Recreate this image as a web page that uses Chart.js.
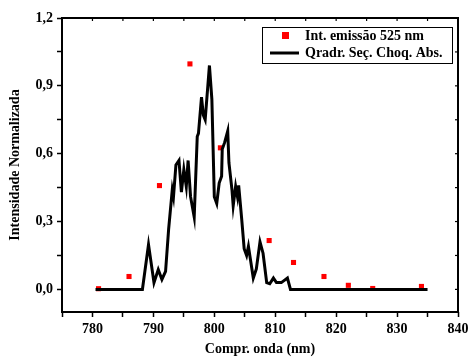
<!DOCTYPE html>
<html>
<head>
<meta charset="utf-8">
<script src="https://cdn.jsdelivr.net/npm/chart.js@4/dist/chart.umd.min.js"></script>
<style>
  html, body { margin: 0; padding: 0; background: #fff; }
</style>
</head>
<body>
<canvas id="chart" width="468" height="358"></canvas>
<script>
// emission intensity points (525 nm)
const emisLabel = 'Int. emissão 525 nm';
const emisX = [781, 786, 791, 796, 801, 809, 813, 818, 822, 826, 834];
const emisY = [0.003, 0.057, 0.459, 0.997, 0.626, 0.216, 0.119, 0.057, 0.018, 0.004, 0.013];

// squared absorption cross-section curve
const specLabel = 'Qradr. Seç. Choq. Abs.';
const specX = [780.5, 788.2, 789.2, 790.1, 790.8, 791.4, 792.0, 792.5, 793.1, 793.3, 793.7, 794.2,
  794.6, 795.0, 795.4, 795.7, 796.1, 796.7, 797.2, 797.4, 797.9, 798.2, 798.5, 799.2, 799.6,
  800.0, 800.4, 800.8, 801.2, 801.3, 801.7, 802.2, 802.4, 802.9, 803.1, 803.5, 803.8, 804.0,
  804.5, 804.9, 805.3, 805.6, 806.0, 806.4, 806.9, 807.5, 808.0, 808.6, 809.1, 809.7, 810.2,
  811.0, 812.0, 812.5, 835.0];
const specY = [0, 0, 0.198, 0.03, 0.088, 0.044, 0.08, 0.265, 0.44, 0.41, 0.55, 0.57,
  0.43, 0.53, 0.455, 0.57, 0.41, 0.32, 0.676, 0.69, 0.85, 0.77, 0.75, 0.99, 0.84,
  0.41, 0.38, 0.47, 0.50, 0.62, 0.65, 0.70, 0.56, 0.44, 0.37, 0.455, 0.41, 0.46,
  0.31, 0.18, 0.15, 0.19, 0.12, 0.05, 0.09, 0.21, 0.16, 0.03, 0.025, 0.05, 0.03,
  0.03, 0.05, 0, 0];

const xTicks = [780, 790, 800, 810, 820, 830, 840];
const yTicks = [0, 0.3, 0.6, 0.9, 1.2];

const serif = '"Liberation Serif", "Times New Roman", serif';

const frameAndLegend = {
  id: 'frameAndLegend',
  afterDatasetsDraw(chart) {
    const { ctx, chartArea: a, scales } = chart;
    ctx.save();
    ctx.strokeStyle = '#000';
    ctx.lineWidth = 2;
    ctx.strokeRect(a.left, a.top, a.right - a.left, a.bottom - a.top);
    // inward ticks on top and right edges
    ctx.lineWidth = 1.2;
    scales.x.ticks.forEach(t => {
      const px = scales.x.getPixelForValue(t.value);
      ctx.beginPath(); ctx.moveTo(px, a.top); ctx.lineTo(px, a.top + 3); ctx.stroke();
    });
    scales.y.ticks.forEach(t => {
      const py = scales.y.getPixelForValue(t.value);
      ctx.beginPath(); ctx.moveTo(a.right, py); ctx.lineTo(a.right - 3, py); ctx.stroke();
    });
    // legend box
    const bx = a.right - 196, by = a.top + 9, bw = 190, bh = 36;
    ctx.fillStyle = '#fff';
    ctx.fillRect(bx, by, bw, bh);
    ctx.lineWidth = 1;
    ctx.strokeRect(bx + 0.5, by + 0.5, bw, bh);
    ctx.fillStyle = '#ff0000';
    ctx.fillRect(bx + 20, by + 5, 7, 7);
    ctx.strokeStyle = '#000';
    ctx.lineWidth = 3;
    ctx.beginPath(); ctx.moveTo(bx + 8, by + 26); ctx.lineTo(bx + 37, by + 26); ctx.stroke();
    ctx.fillStyle = '#000';
    ctx.font = 'bold 14px ' + serif;
    ctx.textBaseline = 'middle';
    ctx.fillText(emisLabel, bx + 43, by + 9);
    ctx.fillText(specLabel, bx + 43, by + 26);
    ctx.restore();
  }
};

new Chart(document.getElementById('chart'), {
  type: 'scatter',
  data: {
    datasets: [
      {
        label: specLabel,
        data: specX.map((x, i) => ({ x: x, y: specY[i] })),
        showLine: true,
        borderColor: '#000',
        borderWidth: 3,
        pointRadius: 0,
        tension: 0,
        order: 0
      },
      {
        label: emisLabel,
        data: emisX.map((x, i) => ({ x: x, y: emisY[i] })),
        pointStyle: 'rect',
        pointRadius: 3.6,
        backgroundColor: '#ff0000',
        borderWidth: 0,
        order: 1
      }
    ]
  },
  options: {
    responsive: false,
    animation: false,
    events: [],
    layout: { padding: { top: 18, right: 10, left: 0, bottom: 0 } },
    plugins: { legend: { display: false }, tooltip: { enabled: false } },
    scales: {
      x: {
        type: 'linear',
        min: 775,
        max: 840,
        afterBuildTicks: s => { s.ticks = []; for (let v = 775; v <= 840; v += 5) s.ticks.push({ value: v }); },
        afterFit: s => { s.height = 46; s.paddingRight = 0; },
        border: { display: false },
        grid: { drawOnChartArea: false, tickLength: 5, tickWidth: 1.5, tickColor: '#000' },
        ticks: {
          color: '#000',
          font: { family: serif, size: 14, weight: 'bold' },
          padding: 4,
          maxRotation: 0,
          autoSkip: false,
          callback: v => xTicks.includes(v) ? String(v) : ''
        },
        title: {
          display: true,
          text: 'Compr. onda (nm)',
          color: '#000',
          font: { family: serif, size: 14, weight: 'bold' },
          padding: { top: 5, bottom: 0 }
        }
      },
      y: {
        min: -0.1,
        max: 1.2,
        afterBuildTicks: s => { s.ticks = []; for (let k = 0; k <= 8; k++) s.ticks.push({ value: k * 0.15 }); },
        afterFit: s => { s.width = 62; },
        border: { display: false },
        grid: { drawOnChartArea: false, tickLength: 5, tickWidth: 1.5, tickColor: '#000' },
        ticks: {
          color: '#000',
          font: { family: serif, size: 14, weight: 'bold' },
          padding: 4,
          autoSkip: false,
          callback: v => {
            const hit = yTicks.find(t => Math.abs(t - v) < 1e-6);
            return hit === undefined ? '' : hit.toFixed(1).replace('.', ',');
          }
        },
        title: {
          display: true,
          text: 'Intensidade Normalizada',
          color: '#000',
          font: { family: serif, size: 14, weight: 'bold' },
          padding: { top: 7, bottom: 4 }
        }
      }
    }
  },
  plugins: [frameAndLegend]
});
</script>
</body>
</html>
